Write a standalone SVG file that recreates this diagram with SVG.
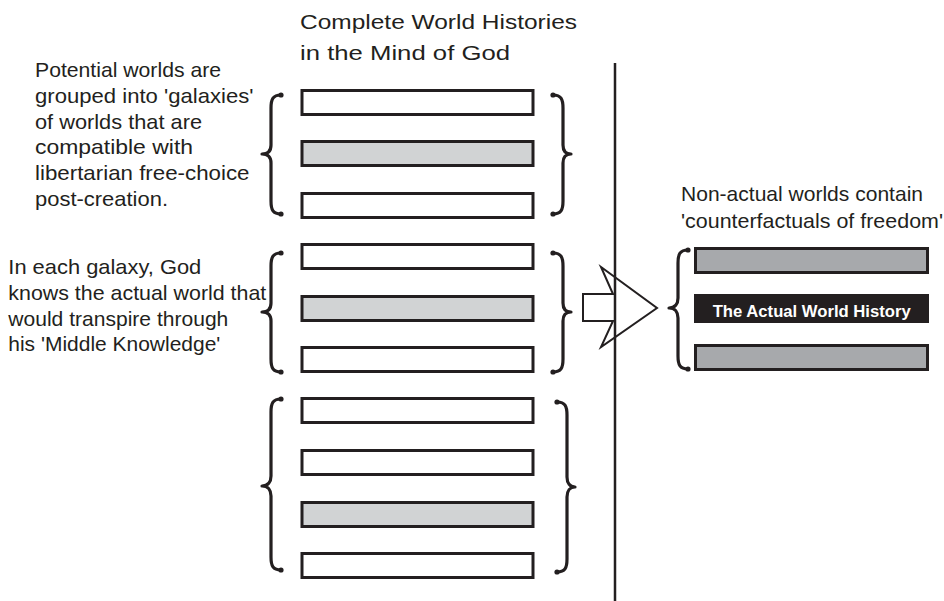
<svg xmlns="http://www.w3.org/2000/svg" width="944" height="601" viewBox="0 0 944 601">
<style>
text{font-family:"Liberation Sans",Arial,sans-serif;font-size:21px;fill:#231f20}
.bar{stroke:#231f20;stroke-width:3;fill:#fff}
.lg{fill:#d1d3d4}
.mg{fill:#a7a9ac}
.brace{fill:none;stroke:#231f20;stroke-width:3.2;stroke-linecap:round;stroke-linejoin:round;marker-start:url(#blob);marker-end:url(#blob)}
.bold{font-weight:bold;font-size:17px;fill:#fff}
</style>
<defs>
<marker id="blob" markerUnits="userSpaceOnUse" markerWidth="8" markerHeight="8" refX="4" refY="4" orient="auto">
<circle cx="4" cy="4" r="2.6" fill="#231f20"/>
</marker>
</defs>
<rect width="944" height="601" fill="#fff"/>
<g id="title">
<text x="300" y="28.5" textLength="277" lengthAdjust="spacingAndGlyphs" font-size="22">Complete World Histories</text>
<text x="300" y="60" textLength="210" lengthAdjust="spacingAndGlyphs" font-size="22">in the Mind of God</text>
</g>
<g id="note-galaxies">
<text x="35" y="76.7" textLength="186" lengthAdjust="spacingAndGlyphs">Potential worlds are</text>
<text x="35" y="102.6" textLength="218.5" lengthAdjust="spacingAndGlyphs">grouped into 'galaxies'</text>
<text x="35" y="128.5" textLength="167" lengthAdjust="spacingAndGlyphs">of worlds that are</text>
<text x="35" y="154.4" textLength="158" lengthAdjust="spacingAndGlyphs">compatible with</text>
<text x="35" y="180.3" textLength="214.5" lengthAdjust="spacingAndGlyphs">libertarian free-choice</text>
<text x="35" y="206.2" textLength="133" lengthAdjust="spacingAndGlyphs">post-creation.</text>
</g>
<g id="note-middle">
<text x="8.3" y="274.3" textLength="193" lengthAdjust="spacingAndGlyphs">In each galaxy, God</text>
<text x="8.3" y="300" textLength="258" lengthAdjust="spacingAndGlyphs">knows the actual world that</text>
<text x="8.3" y="325.7" textLength="220" lengthAdjust="spacingAndGlyphs">would transpire through</text>
<text x="8.3" y="351.4" textLength="212" lengthAdjust="spacingAndGlyphs">his 'Middle Knowledge'</text>
</g>
<g id="note-nonactual">
<text x="681" y="201" textLength="242" lengthAdjust="spacingAndGlyphs">Non-actual worlds contain</text>
<text x="681" y="227.7" textLength="262" lengthAdjust="spacingAndGlyphs">'counterfactuals of freedom'</text>
</g>
<g id="galaxy-1">
<path class="brace" d="M281,95 C273,95 271,99 271,108 L271,145 C271,151 268,154 262,154 C268,154 271,157 271,163 L271,201 C271,210 273,214 281,214"/>
<rect class="bar" x="302" y="90.5" width="231" height="24"/>
<rect class="bar lg" x="302" y="141.5" width="231" height="24"/>
<rect class="bar" x="302" y="193.5" width="231" height="24"/>
<path class="brace" d="M553,95 C561,95 563,99 563,108 L563,145 C563,151 566,154 571,154 C566,154 563,157 563,163 L563,201 C563,210 561,214 553,214"/>
</g>
<g id="galaxy-2">
<path class="brace" d="M281,253 C273,253 271,257 271,266 L271,303 C271,309 268,312 262,312 C268,312 271,315 271,321 L271,359 C271,368 273,372 281,372"/>
<rect class="bar" x="302" y="244.5" width="231" height="24"/>
<rect class="bar lg" x="302" y="296.5" width="231" height="24"/>
<rect class="bar" x="302" y="347.5" width="231" height="24"/>
<path class="brace" d="M553,253 C561,253 563,257 563,266 L563,303 C563,309 566,312 571,312 C566,312 563,315 563,321 L563,359 C563,368 561,372 553,372"/>
</g>
<g id="galaxy-3">
<path class="brace" d="M281,399 C273,399 271,403 271,412 L271,476 C271,482 268,486 262,486 C268,486 271,490 271,496 L271,557 C271,566 273,570 281,570"/>
<rect class="bar" x="302" y="398.5" width="231" height="24"/>
<rect class="bar" x="302" y="450.5" width="231" height="24"/>
<rect class="bar lg" x="302" y="502.5" width="231" height="24"/>
<rect class="bar" x="302" y="553.5" width="231" height="24"/>
<path class="brace" d="M557,402 C565,402 567,406 567,415 L567,477 C567,483 570,487 575,487 C570,487 567,491 567,497 L567,559 C567,568 565,572 557,572"/>
</g>
<g id="actual-world">
<path class="brace" d="M688,250 C680,250 678,254 678,263 L678,298 C678,304 675,308 669,308 C675,308 678,312 678,318 L678,356 C678,365 680,369 688,369"/>
<rect class="bar mg" x="695.5" y="248.5" width="232" height="24"/>
<rect x="694" y="294" width="235" height="29" fill="#231f20"/>
<text class="bold" x="712.7" y="316.7" textLength="198" lengthAdjust="spacingAndGlyphs">The Actual World History</text>
<rect class="bar mg" x="695.5" y="345.5" width="232" height="24"/>
</g>
<g id="connectors">
<polygon points="583,294 613,294 601,267 657,308 601,347 613,321 583,321" fill="#fff" stroke="#231f20" stroke-width="2" stroke-linejoin="miter"/>
<line x1="615" y1="63" x2="615" y2="601" stroke="#231f20" stroke-width="2.5"/>
</g>
</svg>
